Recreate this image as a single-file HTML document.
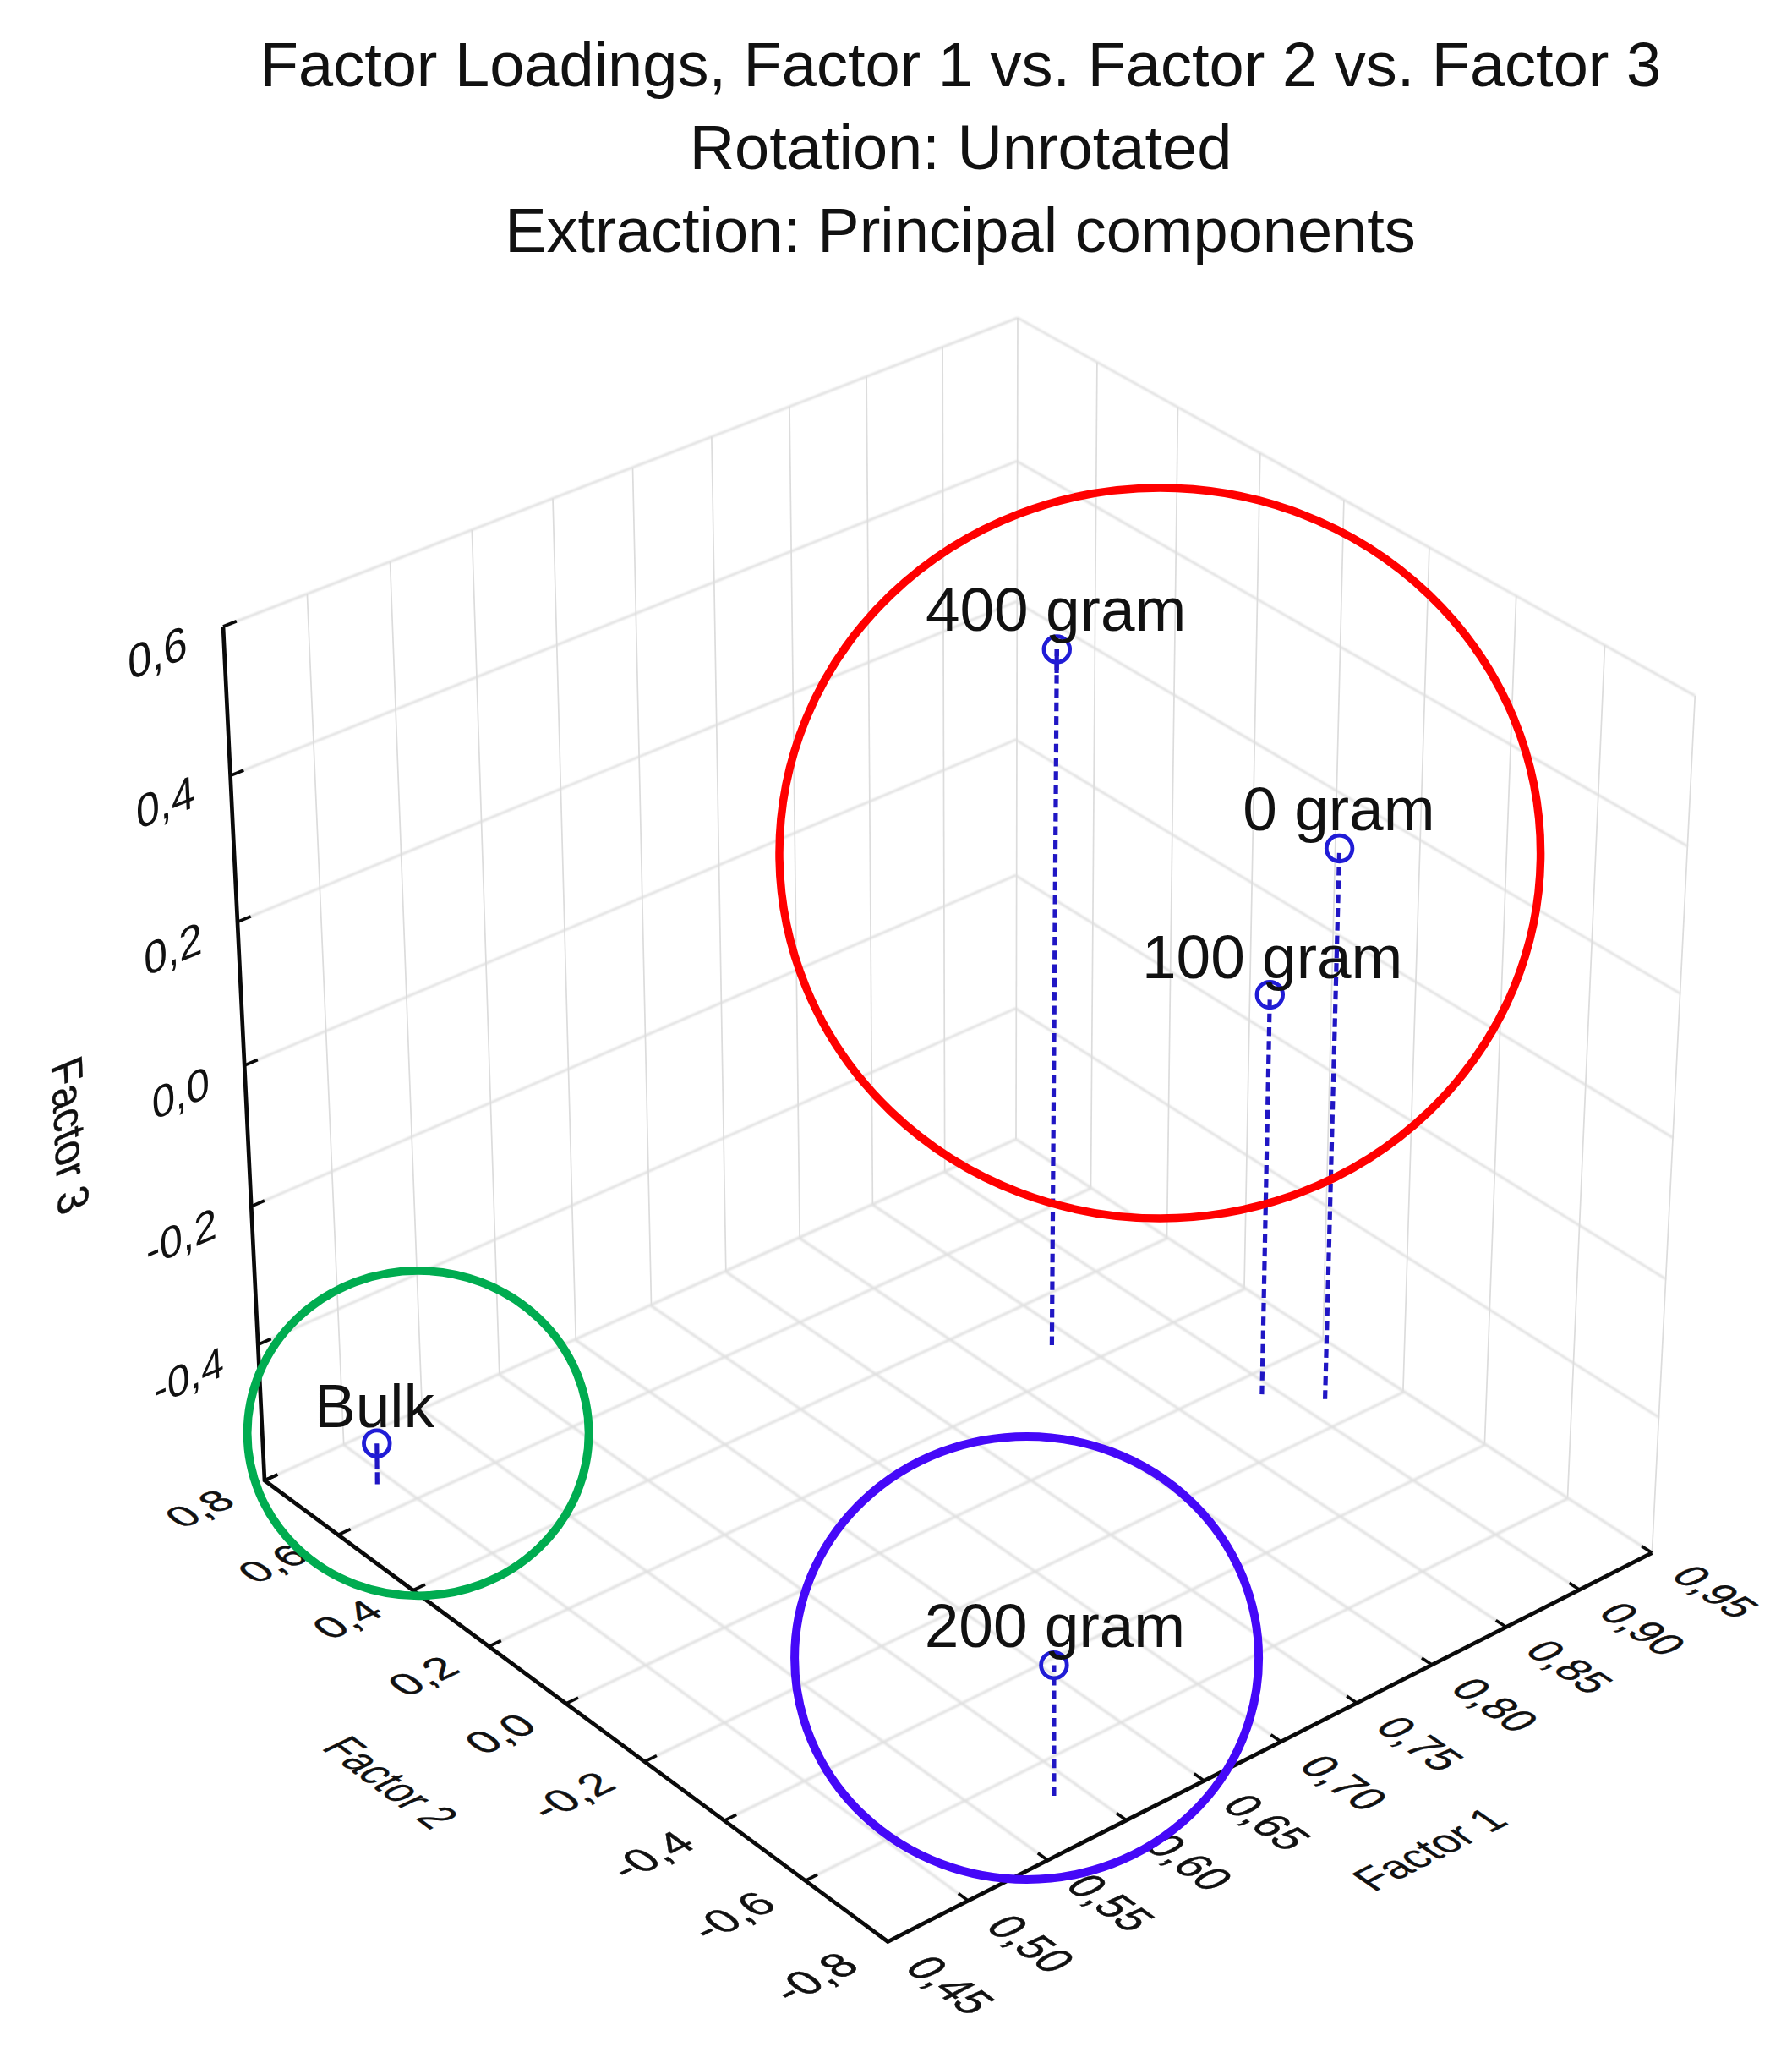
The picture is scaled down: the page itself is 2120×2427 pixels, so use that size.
<!DOCTYPE html>
<html><head><meta charset="utf-8"><title>Factor Loadings</title>
<style>
html,body{margin:0;padding:0;background:#fff;}
body{width:2120px;height:2427px;overflow:hidden;position:relative;font-family:"Liberation Sans",Arial,sans-serif;}
svg{position:absolute;left:0;top:0;display:block;}
text{font-family:"Liberation Sans",Arial,sans-serif;fill:#111;}
.ttl{font-size:74px;text-anchor:middle;}
.g{stroke:#dcdcdc;stroke-width:1.7;fill:none;}
.gs{stroke:#dddddd;stroke-width:2.5;fill:none;}
.gf{stroke:#e0e0e0;stroke-width:3;fill:none;}
.ax{stroke:#0a0a0a;stroke-width:4.7;fill:none;stroke-linejoin:miter;}
.tm{stroke:#0a0a0a;stroke-width:3.6;fill:none;}
.dl{stroke:#2016c4;stroke-width:5.2;stroke-dasharray:10.4 5.9;fill:none;}
.ds{stroke:#2016c4;stroke-width:5.2;fill:none;}
.mk{stroke:#201cd6;stroke-width:4.8;fill:none;}
.lb{font-size:73px;}
.tk{stroke:#111;stroke-width:0.5;}
.t3{stroke:none;}
.at{stroke:#111;stroke-width:0.3;}
</style></head><body>
<svg width="2120" height="2427" viewBox="0 0 2120 2427">
<defs><filter id="gb" x="0" y="0" width="2120" height="2427" filterUnits="userSpaceOnUse"><feGaussianBlur stdDeviation="0.9"/></filter></defs>
<rect width="2120" height="2427" fill="#ffffff"/>
<text class="ttl" x="1136.5" y="102">Factor Loadings, Factor 1 vs. Factor 2 vs. Factor 3</text>
<text class="ttl" x="1136.5" y="199.7">Rotation: Unrotated</text>
<text class="ttl" x="1136" y="297.5">Extraction: Principal components</text>
<g class="grid">
<line class="g" x1="264.0" y1="741.0" x2="313.0" y2="1751.0"/>
<line class="g" x1="363.4" y1="702.4" x2="406.7" y2="1708.5"/>
<line class="g" x1="461.5" y1="664.3" x2="499.3" y2="1666.4"/>
<line class="g" x1="558.3" y1="626.7" x2="590.8" y2="1624.9"/>
<line class="g" x1="654.0" y1="589.6" x2="681.2" y2="1583.8"/>
<line class="g" x1="748.5" y1="552.9" x2="770.5" y2="1543.2"/>
<line class="g" x1="841.9" y1="516.6" x2="858.8" y2="1503.1"/>
<line class="g" x1="934.0" y1="480.8" x2="946.1" y2="1463.5"/>
<line class="g" x1="1025.1" y1="445.5" x2="1032.4" y2="1424.3"/>
<line class="g" x1="1115.1" y1="410.5" x2="1117.7" y2="1385.6"/>
<line class="g" x1="1204.0" y1="376.0" x2="1202.0" y2="1347.3"/>
<line class="g" x1="1297.9" y1="428.4" x2="1290.5" y2="1404.8"/>
<line class="g" x1="1393.5" y1="481.6" x2="1380.5" y2="1463.4"/>
<line class="g" x1="1490.8" y1="535.9" x2="1472.0" y2="1522.9"/>
<line class="g" x1="1589.9" y1="591.2" x2="1565.2" y2="1583.5"/>
<line class="g" x1="1690.9" y1="647.5" x2="1659.9" y2="1645.1"/>
<line class="g" x1="1793.7" y1="704.8" x2="1756.4" y2="1707.8"/>
<line class="g" x1="1898.5" y1="763.3" x2="1854.5" y2="1771.6"/>
<line class="g" x1="2005.3" y1="822.8" x2="1954.4" y2="1836.6"/>
</g>
<g class="grid" filter="url(#gb)">
<line class="gs" x1="264.0" y1="741.0" x2="1204.0" y2="376.0"/>
<line class="gs" x1="1204.0" y1="376.0" x2="2005.3" y2="822.8"/>
<line class="gs" x1="272.6" y1="917.3" x2="1203.7" y2="545.1"/>
<line class="gs" x1="1203.7" y1="545.9" x2="1996.4" y2="1000.8"/>
<line class="gs" x1="280.9" y1="1090.3" x2="1203.3" y2="711.2"/>
<line class="gs" x1="1203.3" y1="712.5" x2="1987.6" y2="1175.0"/>
<line class="gs" x1="289.2" y1="1260.1" x2="1203.0" y2="874.4"/>
<line class="gs" x1="1203.0" y1="875.8" x2="1979.1" y2="1345.6"/>
<line class="gs" x1="297.3" y1="1426.8" x2="1202.6" y2="1034.8"/>
<line class="gs" x1="1202.6" y1="1036.0" x2="1970.7" y2="1512.7"/>
<line class="gs" x1="305.2" y1="1590.4" x2="1202.3" y2="1192.4"/>
<line class="gs" x1="1202.3" y1="1193.1" x2="1962.4" y2="1676.3"/>
<line class="gf" x1="313.0" y1="1751.0" x2="1050.3" y2="2296.5"/>
<line class="gf" x1="406.3" y1="1708.6" x2="1145.5" y2="2248.1"/>
<line class="gf" x1="498.6" y1="1666.7" x2="1239.6" y2="2200.2"/>
<line class="gf" x1="589.9" y1="1625.3" x2="1332.6" y2="2152.9"/>
<line class="gf" x1="680.2" y1="1584.2" x2="1424.5" y2="2106.1"/>
<line class="gf" x1="769.5" y1="1543.7" x2="1515.4" y2="2059.9"/>
<line class="gf" x1="857.9" y1="1503.6" x2="1605.2" y2="2014.2"/>
<line class="gf" x1="945.3" y1="1463.9" x2="1694.0" y2="1969.1"/>
<line class="gf" x1="1031.8" y1="1424.6" x2="1781.8" y2="1924.4"/>
<line class="gf" x1="1117.3" y1="1385.7" x2="1868.6" y2="1880.3"/>
<line class="gf" x1="1202.0" y1="1347.3" x2="1954.4" y2="1836.6"/>
<line class="gf" x1="313.0" y1="1751.0" x2="1202.0" y2="1347.3"/>
<line class="gf" x1="400.0" y1="1815.4" x2="1291.1" y2="1405.2"/>
<line class="gf" x1="488.5" y1="1880.8" x2="1381.6" y2="1464.1"/>
<line class="gf" x1="578.3" y1="1947.3" x2="1473.4" y2="1523.8"/>
<line class="gf" x1="669.7" y1="2014.9" x2="1566.6" y2="1584.4"/>
<line class="gf" x1="762.5" y1="2083.6" x2="1661.3" y2="1646.0"/>
<line class="gf" x1="856.8" y1="2153.4" x2="1757.5" y2="1708.5"/>
<line class="gf" x1="952.8" y1="2224.3" x2="1855.2" y2="1772.1"/>
<line class="gf" x1="1050.3" y1="2296.5" x2="1954.4" y2="1836.6"/>
</g>
<g class="axes">
<polyline class="ax" points="264.0,741.0 313.0,1751.0 1050.3,2296.5 1954.4,1836.6"/>
<line class="tm" x1="264.0" y1="741.0" x2="279.8" y2="734.8"/>
<line class="tm" x1="272.6" y1="917.3" x2="288.3" y2="911.0"/>
<line class="tm" x1="280.9" y1="1090.3" x2="296.7" y2="1083.9"/>
<line class="tm" x1="289.2" y1="1260.1" x2="304.8" y2="1253.5"/>
<line class="tm" x1="297.3" y1="1426.8" x2="312.9" y2="1420.0"/>
<line class="tm" x1="305.2" y1="1590.4" x2="320.7" y2="1583.5"/>
<line class="tm" x1="313.0" y1="1751.0" x2="328.5" y2="1744.0"/>
<line class="tm" x1="313.0" y1="1751.0" x2="327.6" y2="1744.4"/>
<line class="tm" x1="400.0" y1="1815.4" x2="414.6" y2="1808.7"/>
<line class="tm" x1="488.5" y1="1880.8" x2="503.0" y2="1874.1"/>
<line class="tm" x1="578.3" y1="1947.3" x2="592.8" y2="1940.5"/>
<line class="tm" x1="669.7" y1="2014.9" x2="684.1" y2="2008.0"/>
<line class="tm" x1="762.5" y1="2083.6" x2="776.9" y2="2076.5"/>
<line class="tm" x1="856.8" y1="2153.4" x2="871.2" y2="2146.3"/>
<line class="tm" x1="952.8" y1="2224.3" x2="967.1" y2="2217.2"/>
<line class="tm" x1="1050.3" y1="2296.5" x2="1064.6" y2="2289.2"/>
<line class="tm" x1="1050.3" y1="2296.5" x2="1038.6" y2="2287.9"/>
<line class="tm" x1="1145.5" y1="2248.1" x2="1133.8" y2="2239.5"/>
<line class="tm" x1="1239.6" y1="2200.2" x2="1227.8" y2="2191.7"/>
<line class="tm" x1="1332.6" y1="2152.9" x2="1320.8" y2="2144.5"/>
<line class="tm" x1="1424.5" y1="2106.1" x2="1412.7" y2="2097.8"/>
<line class="tm" x1="1515.4" y1="2059.9" x2="1503.5" y2="2051.7"/>
<line class="tm" x1="1605.2" y1="2014.2" x2="1593.2" y2="2006.1"/>
<line class="tm" x1="1694.0" y1="1969.1" x2="1682.0" y2="1961.0"/>
<line class="tm" x1="1781.8" y1="1924.4" x2="1769.7" y2="1916.4"/>
<line class="tm" x1="1868.6" y1="1880.3" x2="1856.5" y2="1872.3"/>
<line class="tm" x1="1954.4" y1="1836.6" x2="1942.2" y2="1828.7"/>
</g>
<text class="tk t3" text-anchor="end" font-size="49" x="-41.66666666666667" y="17.5" transform="matrix(1.0271,-0.3988,0.0554,1.1428,264.0,741.0)">0,6</text>
<text class="tk t3" text-anchor="end" font-size="49" x="-41.66666666666667" y="17.5" transform="matrix(1.0168,-0.4065,0.0544,1.1212,272.6,917.3)">0,4</text>
<text class="tk t3" text-anchor="end" font-size="49" x="-41.66666666666667" y="17.5" transform="matrix(1.0067,-0.4138,0.0534,1.1003,280.9,1090.3)">0,2</text>
<text class="tk t3" text-anchor="end" font-size="49" x="-41.66666666666667" y="17.5" transform="matrix(0.9968,-0.4207,0.0524,1.0798,289.2,1260.1)">0,0</text>
<text class="tk t3" text-anchor="end" font-size="49" x="-41.66666666666667" y="17.5" transform="matrix(0.9871,-0.4273,0.0514,1.0600,297.3,1426.8)">-0,2</text>
<text class="tk t3" text-anchor="end" font-size="49" x="-41.66666666666667" y="17.5" transform="matrix(0.9776,-0.4337,0.0505,1.0407,305.2,1590.4)">-0,4</text>
<text class="tk" text-anchor="end" font-size="49" x="-44.47916666666667" y="15.2" transform="matrix(0.9640,-0.4378,0.7392,0.5469,313.0,1751.0)">0,8</text>
<text class="tk" text-anchor="end" font-size="49" x="-44.47916666666667" y="15.2" transform="matrix(0.9666,-0.4449,0.7510,0.5556,400.0,1815.4)">0,6</text>
<text class="tk" text-anchor="end" font-size="49" x="-44.47916666666667" y="15.2" transform="matrix(0.9692,-0.4523,0.7631,0.5646,488.5,1880.8)">0,4</text>
<text class="tk" text-anchor="end" font-size="49" x="-44.47916666666667" y="15.2" transform="matrix(0.9718,-0.4598,0.7754,0.5737,578.3,1947.3)">0,2</text>
<text class="tk" text-anchor="end" font-size="49" x="-44.47916666666667" y="15.2" transform="matrix(0.9743,-0.4676,0.7881,0.5831,669.7,2014.9)">0,0</text>
<text class="tk" text-anchor="end" font-size="49" x="-44.47916666666667" y="15.2" transform="matrix(0.9768,-0.4755,0.8011,0.5927,762.5,2083.6)">-0,2</text>
<text class="tk" text-anchor="end" font-size="49" x="-44.47916666666667" y="15.2" transform="matrix(0.9792,-0.4836,0.8144,0.6025,856.8,2153.4)">-0,4</text>
<text class="tk" text-anchor="end" font-size="49" x="-44.47916666666667" y="15.2" transform="matrix(0.9815,-0.4919,0.8280,0.6126,952.8,2224.3)">-0,6</text>
<text class="tk" text-anchor="end" font-size="49" x="-44.47916666666667" y="15.2" transform="matrix(0.9838,-0.5005,0.8420,0.6229,1050.3,2296.5)">-0,8</text>
<text class="tk" text-anchor="start" font-size="49" x="40.625" y="14.4" transform="matrix(0.8083,0.5980,-1.0248,0.5213,1050.3,2296.5)">0,45</text>
<text class="tk" text-anchor="start" font-size="49" x="40.625" y="14.4" transform="matrix(0.8101,0.5912,-1.0128,0.5152,1145.5,2248.1)">0,50</text>
<text class="tk" text-anchor="start" font-size="49" x="40.625" y="14.4" transform="matrix(0.8117,0.5844,-1.0009,0.5091,1239.6,2200.2)">0,55</text>
<text class="tk" text-anchor="start" font-size="49" x="40.625" y="14.4" transform="matrix(0.8133,0.5778,-0.9893,0.5032,1332.6,2152.9)">0,60</text>
<text class="tk" text-anchor="start" font-size="49" x="40.625" y="14.4" transform="matrix(0.8148,0.5713,-0.9778,0.4974,1424.5,2106.1)">0,65</text>
<text class="tk" text-anchor="start" font-size="49" x="40.625" y="14.4" transform="matrix(0.8162,0.5649,-0.9666,0.4917,1515.4,2059.9)">0,70</text>
<text class="tk" text-anchor="start" font-size="49" x="40.625" y="14.4" transform="matrix(0.8175,0.5586,-0.9555,0.4861,1605.2,2014.2)">0,75</text>
<text class="tk" text-anchor="start" font-size="49" x="40.625" y="14.4" transform="matrix(0.8187,0.5524,-0.9447,0.4805,1694.0,1969.1)">0,80</text>
<text class="tk" text-anchor="start" font-size="49" x="40.625" y="14.4" transform="matrix(0.8199,0.5464,-0.9340,0.4751,1781.8,1924.4)">0,85</text>
<text class="tk" text-anchor="start" font-size="49" x="40.625" y="14.4" transform="matrix(0.8209,0.5404,-0.9235,0.4698,1868.6,1880.3)">0,90</text>
<text class="tk" text-anchor="start" font-size="49" x="40.625" y="14.4" transform="matrix(0.8219,0.5345,-0.9132,0.4645,1954.4,1836.6)">0,95</text>
<text class="at" text-anchor="middle" font-size="50" x="0" y="0" transform="matrix(0.0477,0.9827,-1.0383,0.4382,65.0,1350.5)">Factor 3</text>
<text class="at" text-anchor="middle" font-size="50" x="0" y="0" transform="matrix(0.7172,0.5306,-1.0149,0.4870,444.7,2116.5)">Factor 2</text>
<text class="at" text-anchor="middle" font-size="50" x="0" y="0" transform="matrix(0.8796,-0.4474,0.8502,0.5884,1705.8,2197.3)">Factor 1</text>
<line class="dl" x1="1244.4" y1="1591.0" x2="1250.3" y2="768.0"/>
<line class="ds" x1="1250.3" y1="768.0" x2="1250.1" y2="796.0"/>
<circle class="mk" cx="1250.3" cy="768.0" r="15.3"/>
<text class="lb" x="1094.9" y="745.7">400 gram</text>
<line class="dl" x1="1492.9" y1="1649.1" x2="1502.3" y2="1176.6"/>
<circle class="mk" cx="1502.3" cy="1176.6" r="15.3"/>
<text class="lb" x="1351" y="1157">100 gram</text>
<line class="dl" x1="1567.6" y1="1654.7" x2="1584.6" y2="1003.5"/>
<circle class="mk" cx="1584.6" cy="1003.5" r="15.3"/>
<text class="lb" x="1470.3" y="982">0 gram</text>
<line class="dl" x1="1246.9" y1="2123.9" x2="1246.9" y2="1969.6"/>
<circle class="mk" cx="1246.9" cy="1969.6" r="15.3"/>
<text class="lb" x="1093.75" y="1948">200 gram</text>
<line class="ds" x1="445.8" y1="1707.2" x2="446.1" y2="1737.2"/>
<line class="ds" x1="446.2" y1="1741.2" x2="446.3" y2="1755.5"/>
<circle class="mk" cx="445.8" cy="1707.2" r="15.3"/>
<text class="lb" x="372" y="1688">Bulk</text>
<ellipse cx="1372.3" cy="1009" rx="450.3" ry="432" fill="none" stroke="#ff0000" stroke-width="9.5"/>
<ellipse cx="494.6" cy="1695.1" rx="202" ry="192.2" fill="none" stroke="#00ac50" stroke-width="9.8"/>
<ellipse cx="1214.6" cy="1960.9" rx="274.5" ry="262" fill="none" stroke="#4508f8" stroke-width="10"/>
</svg>
</body></html>
